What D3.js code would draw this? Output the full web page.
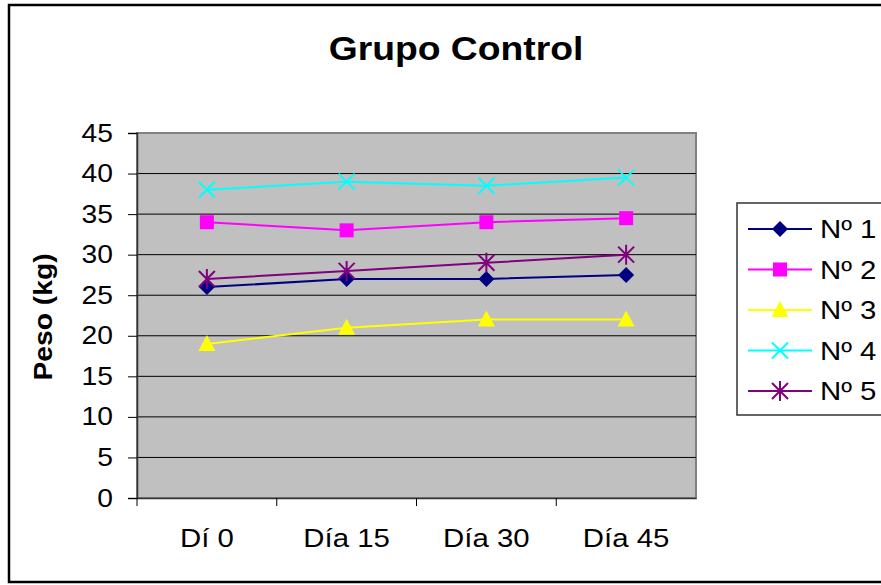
<!DOCTYPE html>
<html>
<head>
<meta charset="utf-8">
<script src="https://cdn.jsdelivr.net/npm/d3@7"></script>
<style>
  body { margin: 0; padding: 0; background: #fff; }
  svg { display: block; font-family: 'Liberation Sans', Arial, sans-serif; }
</style>
</head>
<body>
<div id="main"></div>
<script>
const categories = ['Dí 0', 'Día 15', 'Día 30', 'Día 45'];
const seriesNames = ['Nº 1', 'Nº 2', 'Nº 3', 'Nº 4', 'Nº 5'];
const n1 = [26, 27, 27, 27.5];
const n2 = [34, 33, 34, 34.5];
const n3 = [19, 21, 22, 22];
const n4 = [38, 39, 38.5, 39.5];
const n5 = [27, 28, 29, 30];
const yTicks = [0, 5, 10, 15, 20, 25, 30, 35, 40, 45];

const seriesColors = ['#000080', '#ff00ff', '#ffff00', '#00ffff', '#800080'];
const seriesMarkers = ['diamond', 'square', 'triangle', 'x', 'star'];
const seriesValues = [n1, n2, n3, n4, n5];

const WIDTH = 881, HEIGHT = 585;
const SX = 1.13; // the original text is a bit wider than plain Arial
const FONT = "'Liberation Sans', Arial, sans-serif";
const plot = {left: 137, right: 696, top: 133, bottom: 498};

const svg = d3.select('#main').append('svg')
    .attr('width', WIDTH)
    .attr('height', HEIGHT);

// outer frame
svg.append('rect')
    .attr('x', 9).attr('y', 5)
    .attr('width', 890).attr('height', 577)
    .attr('fill', 'white')
    .attr('stroke', 'black')
    .attr('stroke-width', 2.5);

const scaleX = d3.scaleBand().domain(categories).range([plot.left, plot.right]);
const scaleY = d3.scaleLinear().domain([0, 45]).range([plot.bottom, plot.top]);

// plot area
svg.append('rect')
    .attr('x', plot.left).attr('y', plot.top)
    .attr('width', plot.right - plot.left).attr('height', plot.bottom - plot.top)
    .attr('fill', '#c0c0c0')
    .attr('stroke', '#808080')
    .attr('stroke-width', 2);

// gridlines
svg.append('g').selectAll('line')
    .data(yTicks.filter(d => d > 0 && d < 45))
    .enter().append('line')
    .attr('x1', plot.left).attr('x2', plot.right)
    .attr('y1', d => scaleY(d)).attr('y2', d => scaleY(d))
    .attr('stroke', 'black')
    .attr('stroke-width', 1);

// y axis
const Y_TICK = 9, Y_PAD = 15;
const axisY = d3.axisLeft(scaleY).tickValues(yTicks).tickSize(Y_TICK).tickPadding(Y_PAD);
const gy = svg.append('g')
    .attr('transform', `translate(${plot.left}, 0)`)
    .call(axisY);
gy.select('.domain').attr('stroke', '#333').attr('stroke-width', 1.5);
gy.selectAll('.tick line').attr('stroke', 'black');
gy.selectAll('.tick text')
    .attr('font-size', 25)
    .attr('font-family', FONT)
    .attr('fill', 'black')
    .attr('x', -(Y_TICK + Y_PAD) / SX)
    .attr('transform', `scale(${SX},1)`);

// x axis
const axisX = d3.axisBottom(scaleX).tickSizeOuter(0).tickSize(0).tickPadding(31);
const gx = svg.append('g')
    .attr('transform', `translate(0, ${plot.bottom})`)
    .call(axisX);
gx.select('.domain').attr('stroke', '#333').attr('stroke-width', 1.5);
gx.selectAll('.tick text')
    .attr('font-size', 26)
    .attr('font-family', FONT)
    .attr('fill', 'black')
    .attr('transform', `scale(${SX},1)`);
// tick marks between categories
gx.selectAll('.sep')
    .data(scaleX.domain().map(c => scaleX(c)))
    .enter().append('line')
    .attr('class', 'sep')
    .attr('x1', d => d).attr('x2', d => d)
    .attr('y1', 0).attr('y2', 8)
    .attr('stroke', 'black');

// title
svg.append('text')
    .attr('transform', `translate(456, 60) scale(${SX},1)`)
    .attr('text-anchor', 'middle')
    .attr('font-size', 33)
    .attr('font-weight', 'bold')
    .text('Grupo Control');

// y label
svg.append('text')
    .attr('transform', `translate(52, 317) rotate(-90) scale(${SX},1)`)
    .attr('text-anchor', 'middle')
    .attr('font-size', 25)
    .attr('font-weight', 'bold')
    .text('Peso (kg)');

const cx = (c) => scaleX(c) + scaleX.bandwidth() / 2;

const drawMarker = (g, type, x, y, color) => {
    if (type === 'diamond') {
        g.append('path')
            .attr('d', `M${x},${y - 8}L${x + 8},${y}L${x},${y + 8}L${x - 8},${y}Z`)
            .attr('fill', color);
    } else if (type === 'square') {
        g.append('rect')
            .attr('x', x - 7).attr('y', y - 7)
            .attr('width', 14).attr('height', 14)
            .attr('fill', color);
    } else if (type === 'triangle') {
        g.append('path')
            .attr('d', `M${x},${y - 9}L${x + 8.5},${y + 7}L${x - 8.5},${y + 7}Z`)
            .attr('fill', color);
    } else if (type === 'x') {
        g.append('path')
            .attr('d', `M${x - 8},${y - 8}L${x + 8},${y + 8}M${x - 8},${y + 8}L${x + 8},${y - 8}`)
            .attr('stroke', color).attr('stroke-width', 2).attr('fill', 'none');
    } else if (type === 'star') {
        g.append('path')
            .attr('d', `M${x - 8},${y - 8}L${x + 8},${y + 8}M${x - 8},${y + 8}L${x + 8},${y - 8}M${x},${y - 10}L${x},${y + 10}`)
            .attr('stroke', color).attr('stroke-width', 2).attr('fill', 'none');
    }
};

const lineGen = d3.line().x(d => cx(d.cat)).y(d => scaleY(d.value));

seriesValues.forEach((vals, i) => {
    const pts = vals.map((v, j) => ({cat: categories[j], value: v}));
    const g = svg.append('g');
    g.append('path')
        .datum(pts)
        .attr('d', lineGen)
        .attr('fill', 'none')
        .attr('stroke', seriesColors[i])
        .attr('stroke-width', 2);
    pts.forEach(p => drawMarker(g, seriesMarkers[i], cx(p.cat), scaleY(p.value), seriesColors[i]));
});

// legend
const legend = svg.append('g').attr('id', 'legend');
legend.append('rect')
    .attr('x', 737).attr('y', 203)
    .attr('width', 200).attr('height', 212)
    .attr('fill', 'white')
    .attr('stroke', '#333')
    .attr('stroke-width', 1.5);
seriesNames.forEach((name, i) => {
    const y = 229 + i * 40.5;
    legend.append('line')
        .attr('x1', 748).attr('x2', 812)
        .attr('y1', y).attr('y2', y)
        .attr('stroke', seriesColors[i])
        .attr('stroke-width', 2);
    drawMarker(legend, seriesMarkers[i], 780, y, seriesColors[i]);
    legend.append('text')
        .attr('transform', `translate(820, ${y + 9}) scale(${SX},1)`)
        .attr('font-size', 26)
        .text(name);
});
</script>
</body>
</html>
